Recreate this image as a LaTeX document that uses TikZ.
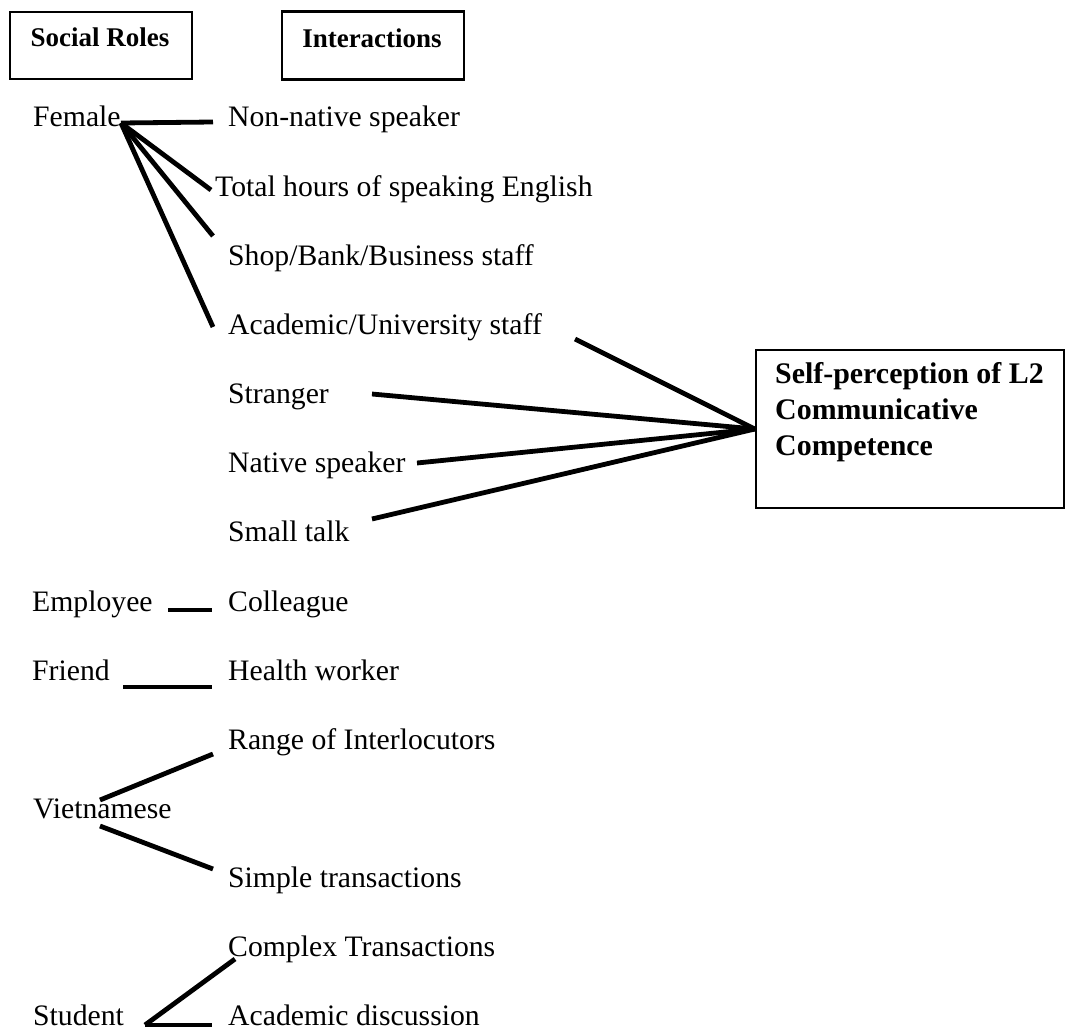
\documentclass[tikz,border=0pt]{standalone}
\usepackage{fontspec}
\setmainfont{Liberation Serif}
\begin{document}
\begin{tikzpicture}[x=1pt,y=-1pt,
  item/.style={anchor=base west, inner sep=0pt, font=\fontsize{29.7}{36}\selectfont},
  head/.style={anchor=base, inner sep=0pt, font=\fontsize{27}{32}\selectfont\bfseries},
  frame/.style={draw, line width=2.3pt, inner sep=0pt},
  conn/.style={line width=4.8pt}]
\useasboundingbox (0,0) rectangle (1067,1030);

% heading boxes
\node[frame, minimum width=182pt, minimum height=67pt] (srbox) at (101,45.5) {};
\node[head] (srtext) at (100,47) {Social Roles};
\node[frame, minimum width=182pt, minimum height=68pt] (inbox) at (373,45.5) {};
\node[head] (intext) at (372,48) {Interactions};

% outcome box
\node[frame, minimum width=308pt, minimum height=158pt] (target) at (910,429) {};
\node[anchor=north west, inner sep=0pt, align=left,
      font=\fontsize{29.9}{36}\selectfont\bfseries] (targettext) at (775,362.5)
  {Self-perception of L2\\Communicative\\Competence};

% social roles (left column)
\node[item] (female)     at (33,127)    {Female};
\node[item] (employee)   at (32,611.1)  {Employee};
\node[item] (friend)     at (32,680.2)  {Friend};
\node[item] (vietnamese) at (33,818.5)  {Vietnamese};
\node[item, text depth=0pt] (student) at (33,1025) {Student};

% interactions (right column)
\node[item] (nonnative)  at (228,127)   {Non-native speaker};
\node[item] (hours)      at (215,196.2) {Total hours of speaking English};
\node[item] (shop)       at (228,265.3) {Shop/Bank/Business staff};
\node[item] (academic)   at (228,334.5) {Academic/University staff};
\node[item] (stranger)   at (228,403.6) {Stranger};
\node[item] (native)     at (228,472.8) {Native speaker};
\node[item] (smalltalk)  at (228,541.9) {Small talk};
\node[item] (colleague)  at (228,611.1) {Colleague};
\node[item] (health)     at (228,680.2) {Health worker};
\node[item] (range)      at (228,749.4) {Range of Interlocutors};
\node[item] (simple)     at (228,887.7) {Simple transactions};
\node[item] (complex)    at (228,956.8) {Complex Transactions};
\node[item, text depth=0pt] (discussion) at (228,1025) {Academic discussion};

% connector end points
\coordinate (femJ) at (121,123);
\coordinate (nnE)  at (213,122);
\coordinate (thE)  at (211,190);
\coordinate (sbE)  at (213,236);
\coordinate (acE)  at (213,327);
\coordinate (acR)  at (575,339);
\coordinate (stR)  at (372,394);
\coordinate (nsR)  at (417,463);
\coordinate (smR)  at (372,519);
\coordinate (empL) at (168,610);
\coordinate (empR) at (212,610);
\coordinate (frL)  at (123,687);
\coordinate (frR)  at (212,687);
\coordinate (vJu)  at (100,800);
\coordinate (vJl)  at (100,826);
\coordinate (rgE)  at (213,754);
\coordinate (siE)  at (213,869);
\coordinate (stJ)  at (145,1025);
\coordinate (ctE)  at (235,959);
\coordinate (adE)  at (212,1025);

% Female branches
\draw[conn] (femJ) -- (nnE);
\draw[conn] (femJ) -- (thE);
\draw[conn] (femJ) -- (sbE);
\draw[conn] (femJ) -- (acE);

% links into the outcome box
\draw[conn] (acR) -- (target.west);
\draw[conn] (stR) -- (target.west);
\draw[conn] (nsR) -- (target.west);
\draw[conn] (smR) -- (target.west);

% single links
\draw[conn] (empL) -- (empR);
\draw[conn] (frL) -- (frR);

% Vietnamese branches
\draw[conn] (vJu) -- (rgE);
\draw[conn] (vJl) -- (siE);

% Student branches
\draw[conn] (stJ) -- (ctE);
\draw[conn] (stJ) -- (adE);
\end{tikzpicture}
\end{document}
